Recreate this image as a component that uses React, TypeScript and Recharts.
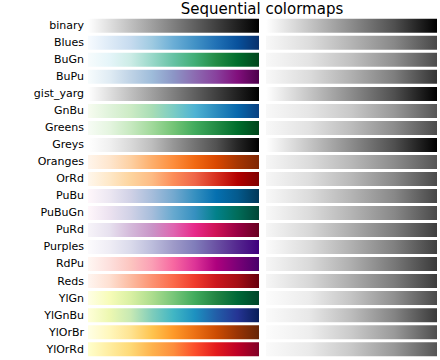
import { BarChart, Bar, XAxis, YAxis, Cell } from 'recharts';

// colour stops of each map, light to dark
const BINARY = ['#ffffff', '#000000'];
const BLUES = ['#f7fbff', '#deebf7', '#c6dbef', '#9ecae1', '#6baed6', '#4292c6', '#2171b5', '#08519c', '#08306b'];
const BUGN = ['#f7fcfd', '#e5f5f9', '#ccece6', '#99d8c9', '#66c2a4', '#41ae76', '#238b45', '#006d2c', '#00441b'];
const BUPU = ['#f7fcfd', '#e0ecf4', '#bfd3e6', '#9ebcda', '#8c96c6', '#8c6bb1', '#88419d', '#810f7c', '#4d004b'];
const GIST_YARG = ['#ffffff', '#000000'];
const GNBU = ['#f7fcf0', '#e0f3db', '#ccebc5', '#a8ddb5', '#7bccc4', '#4eb3d3', '#2b8cbe', '#0868ac', '#084081'];
const GREENS = ['#f7fcf5', '#e5f5e0', '#c7e9c0', '#a1d99b', '#74c476', '#41ab5d', '#238b45', '#006d2c', '#00441b'];
const GREYS = ['#ffffff', '#f0f0f0', '#d9d9d9', '#bdbdbd', '#969696', '#737373', '#525252', '#252525', '#000000'];
const ORANGES = ['#fff5eb', '#fee6ce', '#fdd0a2', '#fdae6b', '#fd8d3c', '#f16913', '#d94801', '#a63603', '#7f2704'];
const ORRD = ['#fff7ec', '#fee8c8', '#fdd49e', '#fdbb84', '#fc8d59', '#ef6548', '#d7301f', '#b30000', '#7f0000'];
const PUBU = ['#fff7fb', '#ece7f2', '#d0d1e6', '#a6bddb', '#74a9cf', '#3690c0', '#0570b0', '#045a8d', '#023858'];
const PUBUGN = ['#fff7fb', '#ece2f0', '#d0d1e6', '#a6bddb', '#67a9cf', '#3690c0', '#02818a', '#016c59', '#014636'];
const PURD = ['#f7f4f9', '#e7e1ef', '#d4b9da', '#c994c7', '#df65b0', '#e7298a', '#ce1256', '#980043', '#67001f'];
const PURPLES = ['#fcfbfd', '#efedf5', '#dadaeb', '#bcbddc', '#9e9ac8', '#807dba', '#6a51a3', '#54278f', '#3f007d'];
const RDPU = ['#fff7f3', '#fde0dd', '#fcc5c0', '#fa9fb5', '#f768a1', '#dd3497', '#ae017e', '#7a0177', '#49006a'];
const REDS = ['#fff5f0', '#fee0d2', '#fcbba1', '#fc9272', '#fb6a4a', '#ef3b2c', '#cb181d', '#a50f15', '#67000d'];
const YLGN = ['#ffffe5', '#f7fcb9', '#d9f0a3', '#addd8e', '#78c679', '#41ab5d', '#238443', '#006837', '#004529'];
const YLGNBU = ['#ffffd9', '#edf8b1', '#c7e9b4', '#7fcdbb', '#41b6c4', '#1d91c0', '#225ea8', '#253494', '#081d58'];
const YLORBR = ['#ffffe5', '#fff7bc', '#fee391', '#fec44f', '#fe9929', '#ec7014', '#cc4c02', '#993404', '#662506'];
const YLORRD = ['#ffffcc', '#ffeda0', '#fed976', '#feb24c', '#fd8d3c', '#fc4e2a', '#e31a1c', '#bd0026', '#800026'];

// grey level (0-255) of each map's lightness, read at 0, 25, 50, 75, 100 %
const BINARY_L = [255, 198, 140, 80, 0];
const BLUES_L = [248, 221, 180, 136, 72];
const BUGN_L = [248, 228, 192, 144, 76];
const BUPU_L = [248, 220, 176, 126, 52];
const GIST_YARG_L = [255, 198, 140, 80, 0];
const GNBU_L = [248, 230, 200, 152, 86];
const GREENS_L = [248, 226, 188, 140, 76];
const GREYS_L = [255, 198, 140, 80, 0];
const ORANGES_L = [246, 220, 184, 140, 86];
const ORRD_L = [246, 222, 184, 136, 74];
const PUBU_L = [248, 220, 180, 136, 70];
const PUBUGN_L = [248, 220, 180, 136, 74];
const PURD_L = [246, 216, 172, 124, 62];
const PURPLES_L = [251, 220, 176, 128, 64];
const RDPU_L = [246, 218, 174, 120, 58];
const REDS_L = [246, 216, 172, 124, 60];
const YLGN_L = [252, 236, 196, 144, 74];
const YLGNBU_L = [250, 232, 188, 132, 58];
const YLORBR_L = [252, 238, 202, 154, 78];
const YLORRD_L = [250, 234, 200, 152, 85];

const NAMES = ['binary', 'Blues', 'BuGn', 'BuPu', 'gist_yarg', 'GnBu', 'Greens', 'Greys', 'Oranges', 'OrRd',
  'PuBu', 'PuBuGn', 'PuRd', 'Purples', 'RdPu', 'Reds', 'YlGn', 'YlGnBu', 'YlOrBr', 'YlOrRd'];
const COLORS = [BINARY, BLUES, BUGN, BUPU, GIST_YARG, GNBU, GREENS, GREYS, ORANGES, ORRD,
  PUBU, PUBUGN, PURD, PURPLES, RDPU, REDS, YLGN, YLGNBU, YLORBR, YLORRD];
const LIGHTNESS = [BINARY_L, BLUES_L, BUGN_L, BUPU_L, GIST_YARG_L, GNBU_L, GREENS_L, GREYS_L, ORANGES_L, ORRD_L,
  PUBU_L, PUBUGN_L, PURD_L, PURPLES_L, RDPU_L, REDS_L, YLGN_L, YLGNBU_L, YLORBR_L, YLORRD_L];

const data = NAMES.map((name) => ({ name, v: 1 }));

const FONT = "'DejaVu Sans', sans-serif";
const MARGIN = { top: 16.8, right: 0, bottom: 2.8, left: 0 };

function grey(level: number) {
  return `rgb(${level},${level},${level})`;
}

function Gradients({ prefix, stops }: { prefix: string; stops: string[][] }) {
  return (
    <defs>
      {stops.map((s, i) => (
        <linearGradient key={i} id={`${prefix}-${i}`} x1="0" y1="0" x2="1" y2="0">
          {s.map((c, j) => (
            <stop key={j} offset={`${(j / (s.length - 1)) * 100}%`} stopColor={c} />
          ))}
        </linearGradient>
      ))}
    </defs>
  );
}

export default function App() {
  const greyStops = LIGHTNESS.map((l) => l.map(grey));
  return (
    <div style={{ position: 'absolute', left: 0, top: 0, width: 440, height: 360, background: '#fff' }}>
      <div style={{ position: 'absolute', left: 0, top: 0 }}>
        <BarChart width={259} height={360} data={data} layout="vertical" margin={MARGIN}>
          <Gradients prefix="cm" stops={COLORS} />
          <XAxis type="number" domain={[0, 1]} hide />
          <YAxis
            type="category"
            dataKey="name"
            width={88}
            axisLine={false}
            tickLine={false}
            tickSize={2}
            tickMargin={2}
            interval={0}
            tick={{ fill: '#000', fontSize: 11, fontFamily: FONT }}
          />
          <Bar dataKey="v" barSize={14} isAnimationActive={false}>
            {data.map((d, i) => (
              <Cell key={d.name} fill={`url(#cm-${i})`} />
            ))}
          </Bar>
        </BarChart>
      </div>
      <div style={{ position: 'absolute', left: 266, top: 0 }}>
        <BarChart width={171} height={360} data={data} layout="vertical" margin={MARGIN}>
          <Gradients prefix="gl" stops={greyStops} />
          <XAxis type="number" domain={[0, 1]} hide />
          <YAxis type="category" dataKey="name" hide />
          <Bar dataKey="v" barSize={14} isAnimationActive={false}>
            {data.map((d, i) => (
              <Cell key={d.name} fill={`url(#gl-${i})`} />
            ))}
          </Bar>
        </BarChart>
      </div>
      <div style={{
        position: 'absolute',
        left: 142,
        width: 240,
        top: 0,
        textAlign: 'center',
        fontFamily: FONT,
        fontSize: 15,
        lineHeight: 'normal',
        color: '#000',
        whiteSpace: 'nowrap',
      }}>Sequential colormaps</div>
    </div>
  );
}
